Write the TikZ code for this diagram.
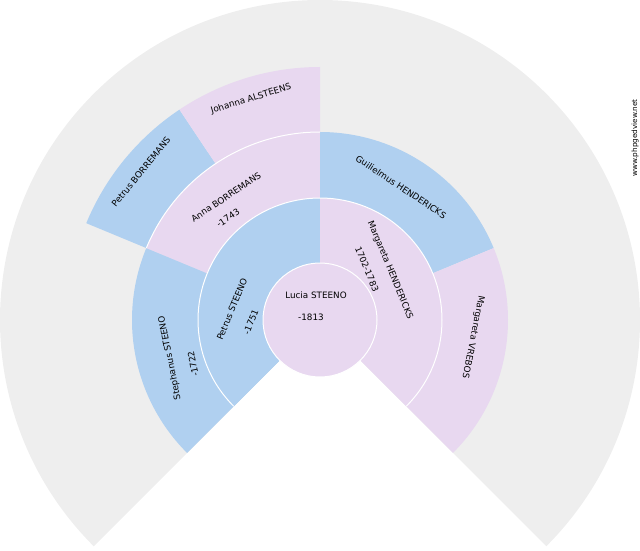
\documentclass[tikz,border=0pt]{standalone}
\usepackage{fontspec}
\setmainfont{DejaVu Sans}
\definecolor{fanblue}{RGB}{176,208,240}
\definecolor{fanlav}{RGB}{232,216,240}
\definecolor{fangray}{RGB}{238,238,238}
\newcommand\fanpie[4]{\fill[#1] (C) -- ([shift={(C)}]#3:#2) arc[start angle=#3,end angle=#4,radius=#2] -- cycle;}
\begin{document}
\begin{tikzpicture}[x=1pt,y=1pt,
  lbl/.style={font=\fontsize{8.8}{10}\selectfont, inner sep=0pt, text=black},
  sep/.style={draw=white, line width=1pt}]
\useasboundingbox (0,0) rectangle (640,550);
\coordinate (C) at (320,230);
% background fan
\fanpie{fangray}{320}{-45}{225}
% generation 3
\fanpie{fanblue}{253}{123.75}{157.5}
\fanpie{fanlav}{253}{90}{123.75}
% generation 2
\fanpie{fanblue}{188}{157.5}{225}
\fanpie{fanlav}{188}{90}{157.5}
\fanpie{fanblue}{188}{22.5}{90}
\fanpie{fanlav}{188}{-45}{22.5}
% generation 1
\fanpie{fanblue}{122}{90}{225}
\fanpie{fanlav}{122}{-45}{90}
% separators
\draw[sep] ([shift={(C)}]90:188) arc[start angle=90,end angle=157.5,radius=188];
\draw[sep] ([shift={(C)}]-45:122) arc[start angle=-45,end angle=225,radius=122];
\draw[sep, fill=fanlav] (C) circle[radius=57];
% labels
\node[lbl] (lucia) at (316,255) {Lucia STEENO};
\node[lbl] (luciad) at (311,233) {-1813};
\node[lbl, rotate=67.5] (petrus) at (232,241) {Petrus STEENO};
\node[lbl, rotate=67.5] (petrusd) at (251,228) {-1751};
\node[lbl, rotate=-67.5] (marg) at (390,280) {Margareta HENDERICKS};
\node[lbl, rotate=-67.5] (margd) at (367,281) {1702-1783};
\node[lbl, rotate=101.25] (steph) at (170,192) {Stephanus STEENO};
\node[lbl, rotate=101.25] (stephd) at (193,186) {-1722};
\node[lbl, rotate=33.75] (anna) at (226,353) {Anna BORREMANS};
\node[lbl, rotate=33.75] (annad) at (228,332) {-1743};
\node[lbl, rotate=-33.75] (guil) at (401,363) {Guilielmus HENDERICKS};
\node[lbl, rotate=-101.25] (vrebos) at (473,213) {Margareta VREBOS};
\node[lbl, rotate=50.625] (petrusb) at (141,378) {Petrus BORREMANS};
\node[lbl, rotate=16.875] (johanna) at (251,451) {Johanna ALSTEENS};
\node[lbl, font=\fontsize{7.3}{8}\selectfont, rotate=90] (www) at (635,412) {www.phpgedview.net};
\end{tikzpicture}
\end{document}
